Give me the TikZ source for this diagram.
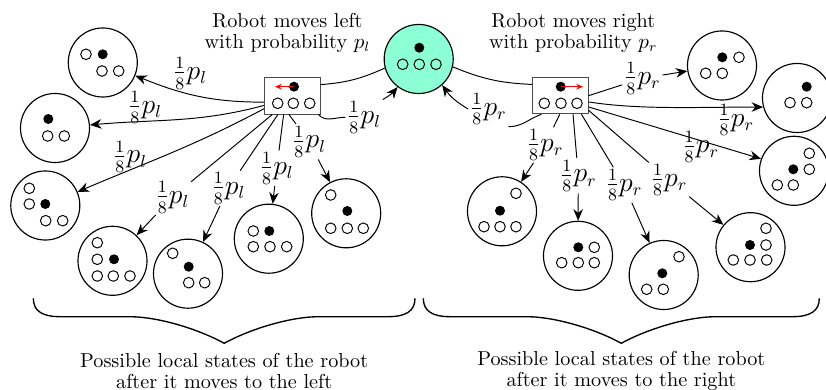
\documentclass[tikz,border=0pt]{standalone}
\usetikzlibrary{arrows.meta,calc}
\definecolor{mint}{RGB}{140,255,215}
\newcommand\myW[2]{\draw[line width=0.5pt] (#1,#2) circle (5.3);}
\newcommand\myB[2]{\fill (#1,#2) circle (5);}
\tikzset{
 st/.style={circle,draw,line width=0.6pt,minimum size=35.9pt,inner sep=0pt},
 box/.style={draw=black!70,line width=0.4pt,minimum width=29pt,minimum height=18.9pt,inner sep=0pt},
 lab/.style={font=\fontsize{13.5}{15}\selectfont,inner sep=0.8pt},
 arr/.style={-{Stealth[length=6pt,width=5pt]},line width=0.5pt},
 ln/.style={line width=0.5pt},
 txt/.style={align=center,inner sep=0pt,font=\fontsize{10.5}{10.8}\selectfont},
 redarr/.style={red,line width=0.5pt,-{Stealth[length=3.5pt,width=3pt]}},
 brace/.style={line width=0.7pt},
}
\begin{document}
\begin{tikzpicture}[x=0.52pt,y=-0.52pt]
\useasboundingbox (0,0) rectangle (826,390);

% state circles
\node[st] (C1) at (102.8,62.5) {};
\node[st] (C2) at (55,128) {};
\node[st] (C3) at (45.3,205.5) {};
\node[st] (C4) at (112.5,260.8) {};
\node[st] (C5) at (188,273.7) {};
\node[st] (C6) at (268.8,238.7) {};
\node[st] (C7) at (346.2,213.3) {};
\node[st,fill=mint] (G) at (418.7,59) {};
\node[st] (R1) at (722,65.5) {};
\node[st] (R2) at (797,98) {};
\node[st] (R3) at (794,170.8) {};
\node[st] (R4) at (502,211.3) {};
\node[st] (R5) at (578,255.8) {};
\node[st] (R6) at (663.7,275) {};
\node[st] (R7) at (750.5,247.2) {};
\node[box] (LB) at (292.2,95.9) {};
\node[box] (RB) at (560.3,95.7) {};

% contents
\myW{86}{54.3}\myB{102.7}{54.3}\myW{102}{71}\myW{118.7}{71}
\myB{48.3}{119}\myW{47.7}{136}\myW{64.3}{136}
\myW{29.3}{188.3}\myW{29.3}{204}\myB{45.3}{204}\myW{45.7}{220.7}\myW{62.7}{220.7}
\myW{97.3}{242.7}\myW{97.3}{259.3}\myB{114}{259.3}\myW{97.3}{276}\myW{113.3}{276}\myW{130}{276}
\myW{172.7}{253.3}\myB{188.7}{266.7}\myW{188.7}{282.7}\myW{204.7}{282.7}
\myW{253.3}{231}\myB{269.3}{231}\myW{253.3}{246.7}\myW{270}{246.7}\myW{286.7}{246.7}
\myW{330.7}{195}\myB{347.3}{211}\myW{330.7}{228.3}\myW{347.3}{228.3}\myW{363.3}{228.3}
\myB{419.3}{47.7}\myW{402.7}{64.3}\myW{419.3}{64.3}\myW{436}{64.3}
\myB{294}{86.7}\myW{277.7}{103.3}\myW{293.3}{103.3}\myW{309.7}{103.3}
\myB{560.7}{86.7}\myW{544.3}{103.3}\myW{561}{103.3}\myW{577}{103.3}
\myB{722.3}{57.3}\myW{739}{57.3}\myW{705.7}{73.3}\myW{722.3}{73.3}
\myB{806.7}{86.7}\myW{790}{102.7}\myW{806.7}{102.7}
\myW{809.3}{153.3}\myB{793.3}{169.3}\myW{809.3}{169.3}\myW{777.3}{185}\myW{793.3}{185}
\myW{516}{193.3}\myB{500}{210.7}\myW{484}{226.7}\myW{500}{226.7}\myW{516}{226.7}
\myB{578.3}{247.3}\myW{594.3}{247.3}\myW{561.7}{262.7}\myW{578.3}{262.7}\myW{594.3}{262.7}
\myW{679}{256.7}\myB{662.3}{273.3}\myW{646.7}{289.3}\myW{663.3}{289.3}
\myW{766}{228.3}\myB{750}{245}\myW{766}{245}\myW{733.3}{260}\myW{750}{260}\myW{766.7}{260}

\coordinate (lt) at (275,86.7);
\coordinate (rt) at (583,86.7);
\draw[redarr] (294,86.7) -- (lt);
\draw[redarr] (560.7,86.7) -- (rt);

% titles
\node[txt] (TL) at (287.5,33) {Robot moves left\\with probability $p_l$};
\node[txt] (TR) at (573.3,33) {Robot moves right\\with probability $p_r$};

% labels
\node[lab] (L1) at (190,73.3) {$\frac{1}{8}p_l$};
\node[lab] (L2) at (145,107.3) {$\frac{1}{8}p_l$};
\node[lab] (L3) at (130,156.7) {$\frac{1}{8}p_l$};
\node[lab] (L4) at (172.3,197.3) {$\frac{1}{8}p_l$};
\node[lab] (L5) at (228.3,188.3) {$\frac{1}{8}p_l$};
\node[lab] (L6) at (276.7,168.3) {$\frac{1}{8}p_l$};
\node[lab] (L7) at (309,141.7) {$\frac{1}{8}p_l$};
\node[lab] (L8) at (364,117.3) {$\frac{1}{8}p_l$};
\node[lab] (RG) at (488.3,109) {$\frac{1}{8}p_r$};
\node[lab] (R1L) at (642.3,78.3) {$\frac{1}{8}p_r$};
\node[lab] (R2L) at (735.7,120) {$\frac{1}{8}p_r$};
\node[lab] (R3L) at (700.7,146.7) {$\frac{1}{8}p_r$};
\node[lab] (R4L) at (545,145) {$\frac{1}{8}p_r$};
\node[lab] (R5L) at (578.3,175.7) {$\frac{1}{8}p_r$};
\node[lab] (R6L) at (624,185) {$\frac{1}{8}p_r$};
\node[lab] (R7L) at (669,180) {$\frac{1}{8}p_r$};

% left edges
\draw[ln] (G.195) to[bend left=10] ($(LB.north east)+(0,7.3)$);
\draw[arr] ($(LB.south west)+(0,-12.3)$) to[out=180,in=-22] (C1);
\draw[arr] ($(LB.south west)+(0,-9)$) to[out=195,in=5] (C2);
\draw[arr] ($(LB.south west)+(0,-5.7)$) to[out=208,in=23] (C3);
\draw[ln] ($(LB.south west)+(8.4,0)$) -- (L4); \draw[arr] (L4) -- (C4);
\draw[ln] ($(LB.south west)+(14,0)$) -- (L5); \draw[arr] (L5) -- (C5);
\draw[ln] ($(LB.south west)+(19.7,0)$) -- (L6); \draw[arr] (L6) -- (C6);
\draw[ln] ($(LB.south west)+(25,0)$) -- (L7); \draw[arr] (L7) -- (C7);
\draw[ln] ($(LB.south east)+(-2,0)$) to[out=-50,in=180] (L8.west);
\draw[arr] (L8.north east) to[bend right=10] (G.-127);

% right edges
\draw[ln] (G.-13) to[bend right=10] ($(RB.north west)+(0,7.3)$);
\draw[ln] ($(RB.south west)+(9.4,0)$) to[out=200,in=0] (RG.south east);
\draw[arr] (RG.west) to[bend left=12] (G.-48);
\draw[ln] (RB.east) -- (R1L); \draw[arr] (R1L) -- (R1);
\draw[arr] ($(RB.south east)+(0,-12.3)$) .. controls (640,110) and (700,107) .. (R2.195);
\draw[arr] ($(RB.south east)+(0,-7.3)$) -- (R3.160);
\draw[ln] ($(RB.south east)+(0,-4)$) -- (R7L); \draw[arr] (R7L) -- (R7);
\draw[ln] ($(RB.south west)+(27.7,0)$) -- (R4L); \draw[arr] (R4L) -- (R4);
\draw[ln] ($(RB.south west)+(41,0)$) -- (R5L); \draw[arr] (R5L) -- (R5);
\draw[ln] ($(RB.south west)+(49.4,0)$) -- (R6L); \draw[arr] (R6L) -- (R6);

% braces
\draw[brace] (33.3,298.3) .. controls (33.3,311) and (42.3,316.7) .. (60.3,316.7) -- (130.2,316.7)
  .. controls (160.2,317) and (200.2,330) .. (224.2,343.3)
  .. controls (248.2,330) and (288.2,317) .. (318.2,316.7) -- (388,316.7)
  .. controls (406,316.7) and (415,311) .. (415,298.3);
\draw[brace] (423.3,298.3) .. controls (423.3,311) and (432.3,316.7) .. (450.3,316.7) -- (527.3,316.7)
  .. controls (557.3,317) and (597.3,330) .. (621.3,343.3)
  .. controls (645.3,330) and (685.3,317) .. (715.3,316.7) -- (792.3,316.7)
  .. controls (810.3,316.7) and (819.3,311) .. (819.3,298.3);

\node[txt] (BL) at (224.2,371) {Possible local states of the robot\\after it moves to the left};
\node[txt] (BR) at (621.3,371) {Possible local states of the robot\\after it moves to the right};
\end{tikzpicture}
\end{document}
